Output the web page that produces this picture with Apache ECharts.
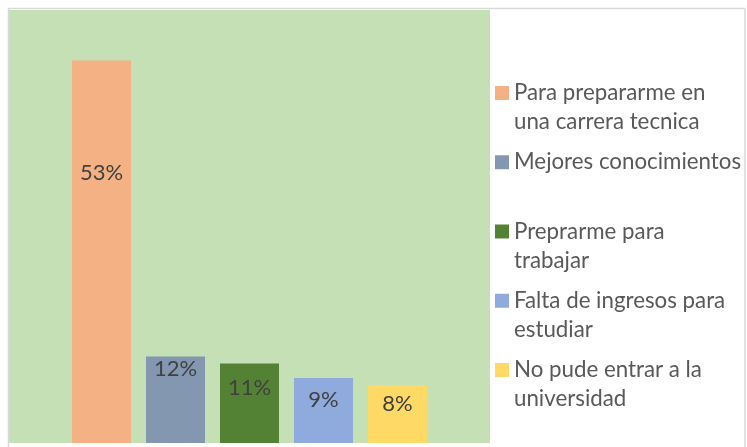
<!DOCTYPE html>
<html>
<head>
<meta charset="utf-8">
<script src="https://cdn.jsdelivr.net/npm/echarts@6/dist/echarts.min.js"></script>
<style>
  html, body { margin: 0; padding: 0; background: #fff; }
  #chart { width: 747px; height: 447px; }
</style>
</head>
<body>
<div id="chart"></div>
<script>
const seriesNames = [
    'Para prepararme en una carrera tecnica',
    'Mejores conocimientos',
    'Preprarme para trabajar',
    'Falta de ingresos para estudiar',
    'No pude entrar a la universidad'
];
const legendLines = [
    'Para prepararme en\nuna carrera tecnica',
    'Mejores conocimientos\n ',
    'Preprarme para\ntrabajar',
    'Falta de ingresos para\nestudiar',
    'No pude entrar a la\nuniversidad'
];
const values = [53, 12, 11, 9, 8];
const barColors = ['#f4b183', '#8497b0', '#548235', '#8faadc', '#ffd966'];
// labels were placed by hand in the original, so each gets its own distance
const labelDistances = [101, 2, 13, 11, 7.5];

const fontFamily = 'Lato, "Liberation Sans", sans-serif';

const chart = echarts.init(document.getElementById('chart'));

const seriesArr = [];
for (let i = 0; i < values.length; i++) {
    seriesArr.push({
        name: seriesNames[i],
        type: 'bar',
        data: [values[i]],
        barWidth: 59,
        barGap: '25.4%',
        itemStyle: { color: barColors[i] },
        label: {
            show: true,
            position: 'insideTop',
            distance: labelDistances[i],
            formatter: '{c}%',
            color: '#404040',
            fontSize: 22,
            fontFamily: fontFamily
        },
        emphasis: { disabled: true }
    });
}

const option = {
    animation: false,
    backgroundColor: '#ffffff',
    grid: {
        show: true,
        left: 9,
        right: 257,
        top: 10,
        bottom: 4,
        backgroundColor: '#c5e0b4',
        borderWidth: 0
    },
    xAxis: {
        type: 'category',
        data: [''],
        show: false
    },
    yAxis: {
        type: 'value',
        min: 0,
        max: 60,
        show: false
    },
    legend: {
        orient: 'vertical',
        left: 495,
        top: 78.5,
        padding: 0,
        itemWidth: 14,
        itemHeight: 58,
        itemGap: 11.25,
        icon: 'path://M0,0L0,0M0,7.5L14,7.5L14,21.5L0,21.5ZM14,58L14,58',
        itemStyle: { borderWidth: 0 },
        data: seriesNames,
        formatter: (name) => legendLines[seriesNames.indexOf(name)],
        textStyle: {
            color: '#595959',
            fontSize: 22.3,
            lineHeight: 29,
            fontFamily: fontFamily
        },
        selectedMode: false
    },
    graphic: [
        {
            type: 'rect',
            shape: { x: 8.5, y: 8.5, width: 736.5, height: 460 },
            style: { fill: null, stroke: '#d9d9d9', lineWidth: 1.5 },
            silent: true,
            z: 100
        }
    ],
    series: seriesArr
};

chart.setOption(option);
</script>
</body>
</html>
